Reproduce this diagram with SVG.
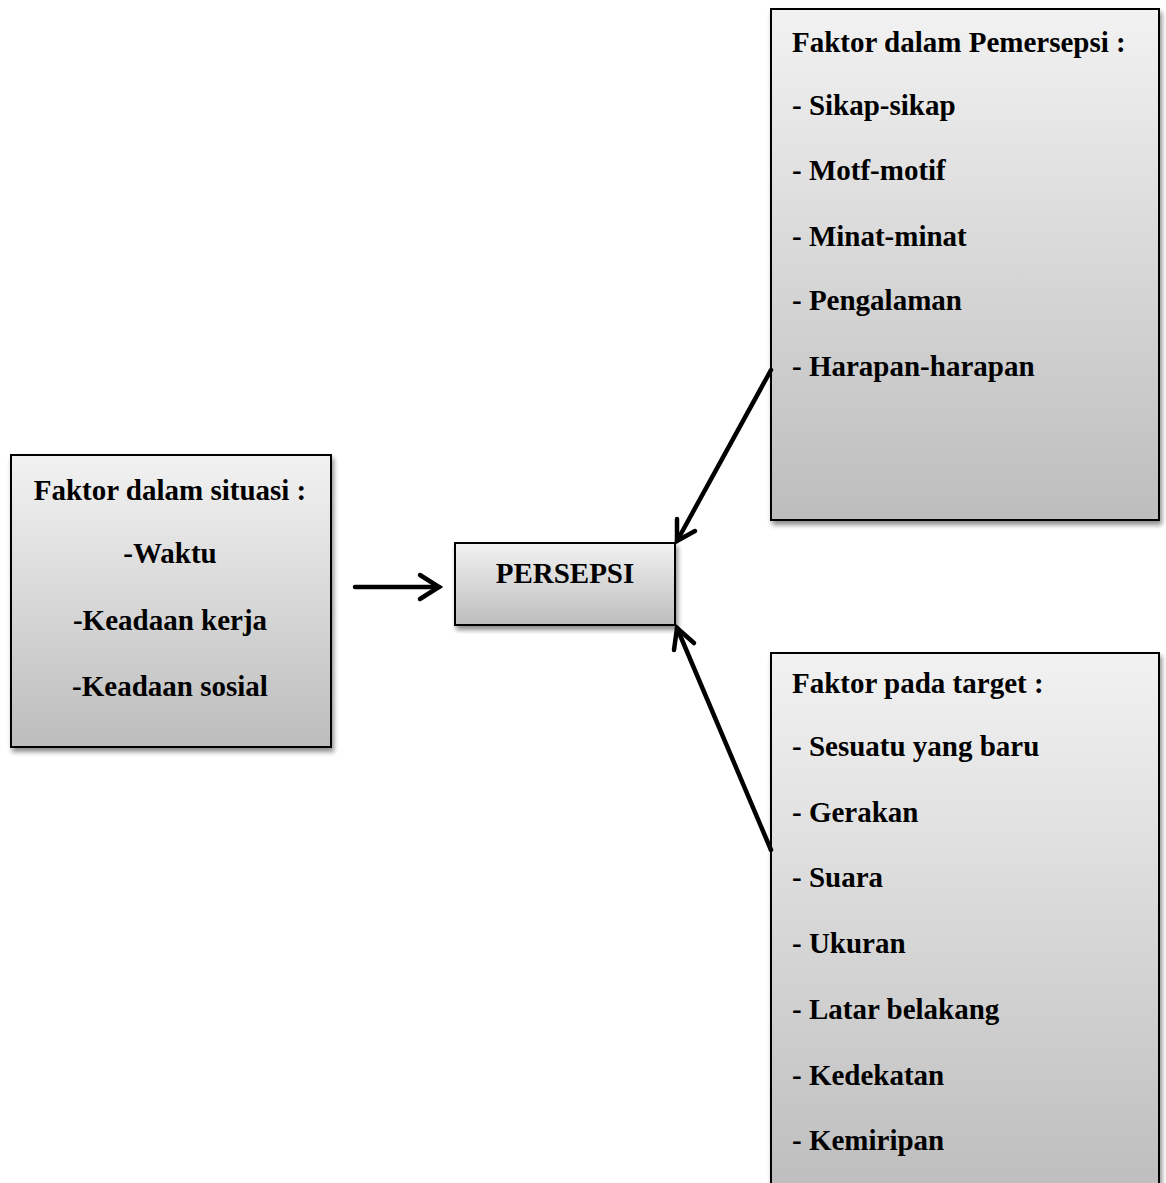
<svg xmlns="http://www.w3.org/2000/svg" width="1166" height="1183" viewBox="0 0 1166 1183">
<style>
.box{stroke:#000;stroke-width:2;fill:url(#g)}
.t{font-family:"Liberation Serif","Times New Roman",serif;font-weight:bold;font-size:29px;fill:#000}
.c{text-anchor:middle}
.conn{stroke:#000;stroke-width:4.5;fill:none;stroke-linecap:round}
</style>
<defs>
<linearGradient id="g" x1="0" y1="0" x2="0" y2="1">
<stop offset="0" stop-color="#f2f2f2"/>
<stop offset="1" stop-color="#bdbdbd"/>
</linearGradient>
<filter id="sh" x="-5%" y="-5%" width="115%" height="115%">
<feGaussianBlur in="SourceAlpha" stdDeviation="2.5"/>
<feOffset dx="2" dy="4" result="b"/>
<feComponentTransfer><feFuncA type="linear" slope="0.45"/></feComponentTransfer>
<feMerge><feMergeNode/><feMergeNode in="SourceGraphic"/></feMerge>
</filter>
</defs>
<rect width="1166" height="1183" fill="#fff"/>
<g id="node-pemersepsi">
<rect class="box" x="771" y="9" width="388" height="511" filter="url(#sh)"/>
<text class="t" x="792" y="52">Faktor dalam Pemersepsi :</text>
<text class="t" x="792" y="115">- Sikap-sikap</text>
<text class="t" x="792" y="180">- Motf-motif</text>
<text class="t" x="792" y="246">- Minat-minat</text>
<text class="t" x="792" y="310">- Pengalaman</text>
<text class="t" x="792" y="376">- Harapan-harapan</text>
</g>
<g id="node-situasi">
<rect class="box" x="11" y="455" width="320" height="292" filter="url(#sh)"/>
<text class="t c" x="170" y="500">Faktor dalam situasi :</text>
<text class="t c" x="170" y="563">-Waktu</text>
<text class="t c" x="170" y="630">-Keadaan kerja</text>
<text class="t c" x="170" y="696">-Keadaan sosial</text>
</g>
<g id="node-persepsi">
<rect class="box" x="455" y="543" width="220" height="82" filter="url(#sh)"/>
<text class="t c" x="565" y="583">PERSEPSI</text>
</g>
<g id="node-target">
<rect class="box" x="771" y="653" width="388" height="545" filter="url(#sh)"/>
<text class="t" x="792" y="693">Faktor pada target :</text>
<text class="t" x="792" y="756">- Sesuatu yang baru</text>
<text class="t" x="792" y="822">- Gerakan</text>
<text class="t" x="792" y="887">- Suara</text>
<text class="t" x="792" y="953">- Ukuran</text>
<text class="t" x="792" y="1019">- Latar belakang</text>
<text class="t" x="792" y="1085">- Kedekatan</text>
<text class="t" x="792" y="1150">- Kemiripan</text>
</g>
<g id="connectors">
<line class="conn" x1="355" y1="587" x2="439" y2="587"/>
<polyline class="conn" points="420,575 439,587 420,599"/>
<line class="conn" x1="771" y1="370" x2="677" y2="541"/>
<polyline class="conn" points="677,519 677,541 695,531"/>
<line class="conn" x1="771" y1="850" x2="677" y2="628"/>
<polyline class="conn" points="674,650 677,628 694,643"/>
</g>
</svg>
